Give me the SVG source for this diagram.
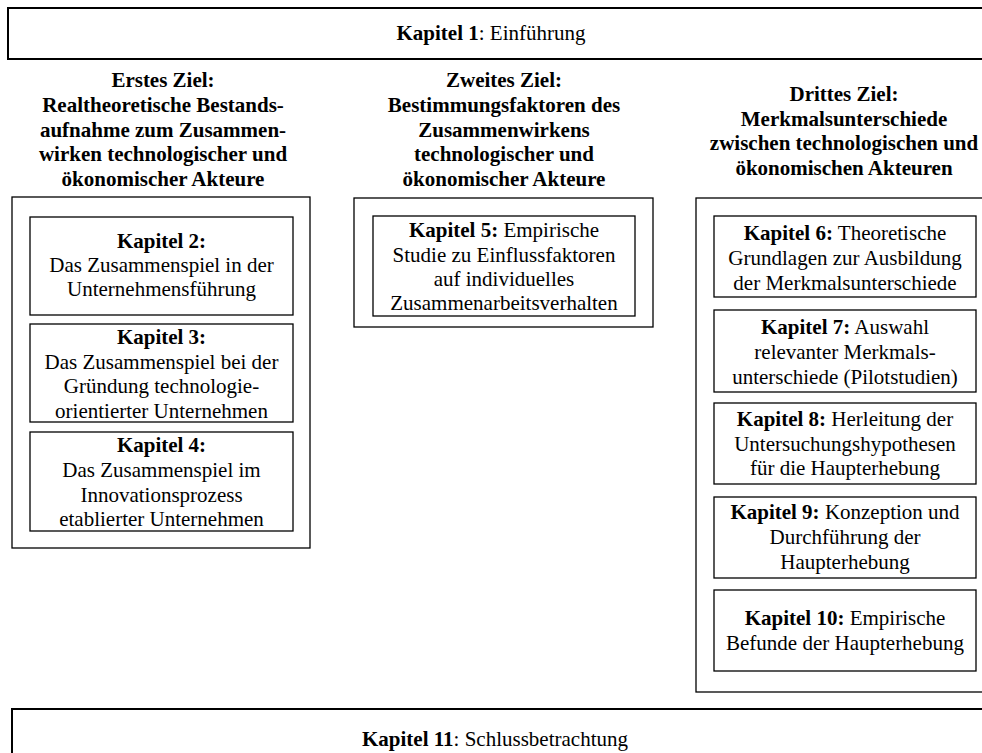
<svg xmlns="http://www.w3.org/2000/svg" width="982" height="753" viewBox="0 0 982 753">
<style>
  text { font-family: "Liberation Serif", "Times New Roman", serif; font-size: 21px; fill: #000; text-anchor: middle; }
  .b { font-weight: bold; }
  .box { fill: #fff; stroke: #000; stroke-width: 1.3; }
  .outer { fill: none; stroke: #000; stroke-width: 1.3; }
  .wide { fill: #fff; stroke: #000; stroke-width: 2; }
</style>
<rect width="982" height="753" fill="#fff"/>

<g id="kapitel1">
  <rect class="wide" x="8" y="8" width="990" height="51"/>
  <text x="491" y="40"><tspan class="b">Kapitel 1</tspan>: Einführung</text>
</g>

<g id="ziel1">
  <text class="b" x="163" y="87">Erstes Ziel:</text>
  <text class="b" x="163" y="112">Realtheoretische Bestands-</text>
  <text class="b" x="163" y="136.5">aufnahme zum Zusammen-</text>
  <text class="b" x="163" y="161">wirken technologischer und</text>
  <text class="b" x="163" y="186">ökonomischer Akteure</text>
  <rect class="outer" x="12" y="197" width="298" height="351"/>
</g>

<g id="kapitel2">
  <rect class="box" x="30" y="217" width="263" height="98"/>
  <text class="b" x="161.5" y="248">Kapitel 2:</text>
  <text x="161.5" y="272">Das Zusammenspiel in der</text>
  <text x="161.5" y="296">Unternehmensführung</text>
</g>

<g id="kapitel3">
  <rect class="box" x="30" y="324" width="263" height="98"/>
  <text class="b" x="161.5" y="344">Kapitel 3:</text>
  <text x="161.5" y="368.5">Das Zusammenspiel bei der</text>
  <text x="161.5" y="393">Gründung technologie-</text>
  <text x="161.5" y="418">orientierter Unternehmen</text>
</g>

<g id="kapitel4">
  <rect class="box" x="30" y="432" width="263" height="99"/>
  <text class="b" x="161.5" y="452">Kapitel 4:</text>
  <text x="161.5" y="477">Das Zusammenspiel im</text>
  <text x="161.5" y="501.5">Innovationsprozess</text>
  <text x="161.5" y="526">etablierter Unternehmen</text>
</g>

<g id="ziel2">
  <text class="b" x="504" y="87">Zweites Ziel:</text>
  <text class="b" x="504" y="112">Bestimmungsfaktoren des</text>
  <text class="b" x="504" y="136.5">Zusammenwirkens</text>
  <text class="b" x="504" y="161">technologischer und</text>
  <text class="b" x="504" y="186">ökonomischer Akteure</text>
  <rect class="outer" x="354" y="198" width="299" height="129"/>
</g>

<g id="kapitel5">
  <rect class="box" x="373" y="216" width="262" height="100"/>
  <text x="504" y="237"><tspan class="b">Kapitel 5:</tspan> Empirische</text>
  <text x="504" y="261.5">Studie zu Einflussfaktoren</text>
  <text x="504" y="285.5">auf individuelles</text>
  <text x="504" y="310">Zusammenarbeitsverhalten</text>
</g>

<g id="ziel3">
  <text class="b" x="844" y="101">Drittes Ziel:</text>
  <text class="b" x="844" y="125.5">Merkmalsunterschiede</text>
  <text class="b" x="844" y="150">zwischen technologischen und</text>
  <text class="b" x="844" y="174.5">ökonomischen Akteuren</text>
  <rect class="outer" x="696" y="198" width="300" height="494"/>
</g>

<g id="kapitel6">
  <rect class="box" x="714" y="216" width="262" height="81"/>
  <text x="845" y="240"><tspan class="b">Kapitel 6:</tspan> Theoretische</text>
  <text x="845" y="265">Grundlagen zur Ausbildung</text>
  <text x="845" y="290">der Merkmalsunterschiede</text>
</g>

<g id="kapitel7">
  <rect class="box" x="714" y="310" width="262" height="82"/>
  <text x="845" y="334"><tspan class="b">Kapitel 7:</tspan> Auswahl</text>
  <text x="845" y="359">relevanter Merkmals-</text>
  <text x="845" y="384">unterschiede (Pilotstudien)</text>
</g>

<g id="kapitel8">
  <rect class="box" x="714" y="403" width="262" height="81"/>
  <text x="845" y="425.5"><tspan class="b">Kapitel 8:</tspan> Herleitung der</text>
  <text x="845" y="450.5">Untersuchungshypothesen</text>
  <text x="845" y="475">für die Haupterhebung</text>
</g>

<g id="kapitel9">
  <rect class="box" x="714" y="497" width="262" height="81"/>
  <text x="845" y="518.5"><tspan class="b">Kapitel 9:</tspan> Konzeption und</text>
  <text x="845" y="544">Durchführung der</text>
  <text x="845" y="568.5">Haupterhebung</text>
</g>

<g id="kapitel10">
  <rect class="box" x="714" y="590" width="262" height="81"/>
  <text x="845" y="625"><tspan class="b">Kapitel 10:</tspan> Empirische</text>
  <text x="845" y="650">Befunde der Haupterhebung</text>
</g>

<g id="kapitel11">
  <rect class="wide" x="12" y="709" width="990" height="60"/>
  <text x="495" y="746"><tspan class="b">Kapitel 11</tspan>: Schlussbetrachtung</text>
</g>

<g id="connectors"></g>
</svg>
